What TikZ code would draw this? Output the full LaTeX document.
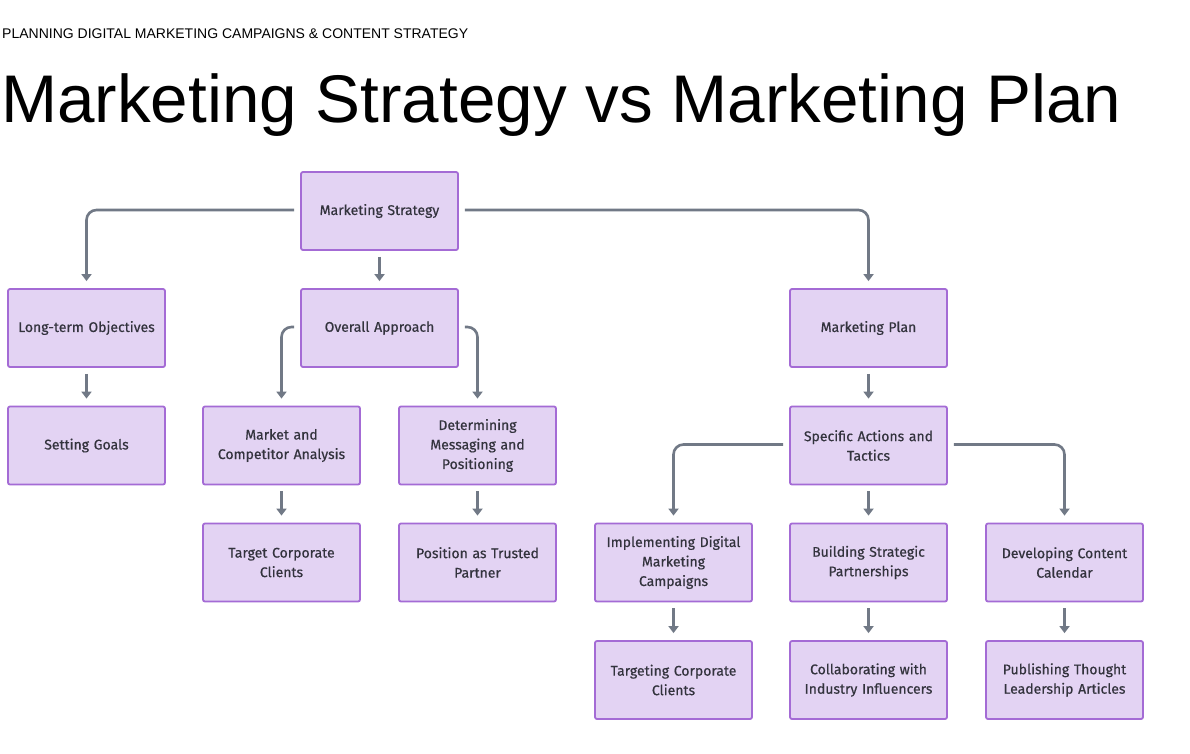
\documentclass[tikz,border=0pt]{standalone}
\usepackage{fontspec}
\setmainfont{Liberation Sans}
\newfontfamily\boxfont{Fira Sans}[FakeBold=0.5]
\usetikzlibrary{arrows.meta}
\definecolor{boxfill}{HTML}{E3D3F3}
\definecolor{boxdraw}{HTML}{A46BD5}
\definecolor{conncol}{HTML}{717986}
\definecolor{boxtext}{HTML}{33333D}
\tikzset{
  box/.style={draw=boxdraw, fill=boxfill, line width=1.8pt, rounded corners=2pt,
    minimum width=157pt, minimum height=78pt, text width=145pt, align=center,
    font=\boxfont\fontsize{14}{19.5}\selectfont, text=boxtext, inner sep=0pt},
  conn/.style={draw=conncol, line width=2.6pt, rounded corners=10pt,
    -{Triangle[length=7pt,width=10pt]}},
}
\begin{document}
\begin{tikzpicture}[x=1pt,y=-1pt]
\useasboundingbox[fill=white] (0,0) rectangle (1190,753);
\node[anchor=base west, inner sep=0pt, font=\fontsize{14}{16}\selectfont] (hdr) at (2,38) {PLANNING DIGITAL MARKETING CAMPAIGNS \& CONTENT STRATEGY};
\node[anchor=base west, inner sep=0pt, font=\fontsize{67.4}{80}\selectfont] (ttl) at (1,122) {Marketing Strategy vs Marketing Plan};

\node[box] (ms) at (379.5,211) {Marketing Strategy};
\node[box] (lto) at (86.5,328) {Long-term Objectives};
\node[box] (oa) at (379.5,328) {Overall Approach};
\node[box] (mp) at (868.5,328) {Marketing Plan};
\node[box] (sg) at (86.5,445.5) {Setting Goals};
\node[box] (mca) at (281.5,445.5) {Market and\\Competitor Analysis};
\node[box] (dmp) at (477.5,445.5) {Determining\\Messaging and\\Positioning};
\node[box] (sat) at (868.5,445.5) {Specific Actions and\\Tactics};
\node[box] (tcc) at (281.5,562.5) {Target Corporate\\Clients};
\node[box] (ptp) at (477.5,562.5) {Position as Trusted\\Partner};
\node[box] (idm) at (673.5,562.5) {Implementing Digital\\Marketing\\Campaigns};
\node[box] (bsp) at (868.5,562.5) {Building Strategic\\Partnerships};
\node[box] (dcc) at (1064.5,562.5) {Developing Content\\Calendar};
\node[box] (tgc) at (673.5,680) {Targeting Corporate\\Clients};
\node[box] (cii) at (868.5,680) {Collaborating with\\Industry Influencers};
\node[box] (pta) at (1064.5,680) {Publishing Thought\\Leadership Articles};

% elbow connectors
\draw[conn] ([xshift=-6pt,yshift=1pt]ms.west) -| ([yshift=7pt]lto.north);
\draw[conn] ([xshift=6pt,yshift=1pt]ms.east) -| ([yshift=7pt]mp.north);
\draw[conn] ([xshift=-6pt,yshift=1pt]oa.west) -| ([yshift=7pt]mca.north);
\draw[conn] ([xshift=6pt,yshift=1pt]oa.east) -| ([yshift=7pt]dmp.north);
\draw[conn] ([xshift=-6pt,yshift=1pt]sat.west) -| ([yshift=7pt]idm.north);
\draw[conn] ([xshift=6pt,yshift=1pt]sat.east) -| ([yshift=7pt]dcc.north);
% straight connectors
\draw[conn] ([yshift=-6pt]ms.south) -- ([yshift=7pt]oa.north);
\draw[conn] ([yshift=-6pt]lto.south) -- ([yshift=7pt]sg.north);
\draw[conn] ([yshift=-6pt]mp.south) -- ([yshift=7pt]sat.north);
\draw[conn] ([yshift=-6pt]mca.south) -- ([yshift=7pt]tcc.north);
\draw[conn] ([yshift=-6pt]dmp.south) -- ([yshift=7pt]ptp.north);
\draw[conn] ([yshift=-6pt]sat.south) -- ([yshift=7pt]bsp.north);
\draw[conn] ([yshift=-6pt]idm.south) -- ([yshift=7pt]tgc.north);
\draw[conn] ([yshift=-6pt]bsp.south) -- ([yshift=7pt]cii.north);
\draw[conn] ([yshift=-6pt]dcc.south) -- ([yshift=7pt]pta.north);
\end{tikzpicture}
\end{document}
